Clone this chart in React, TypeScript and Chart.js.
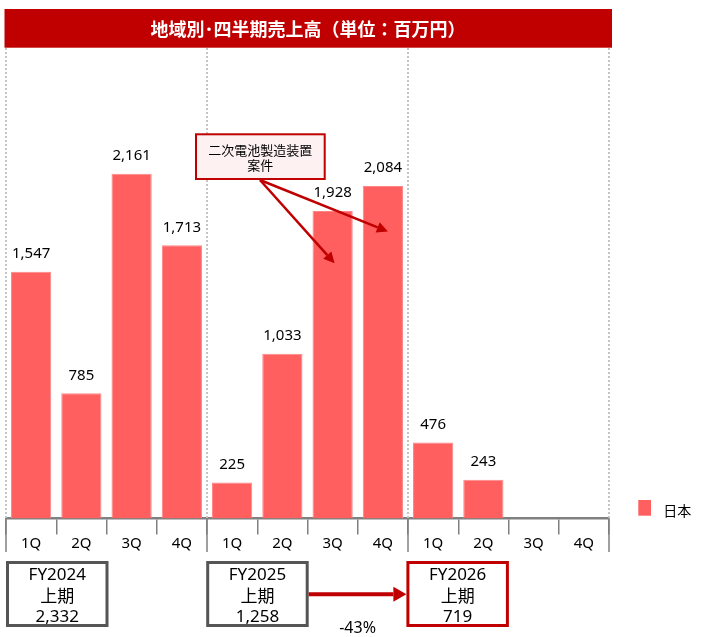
import React, { useEffect, useRef } from 'react';
import { Chart, registerables } from 'chart.js';

Chart.register(...registerables);

// ---------- data ----------
const quarterLabels = ['1Q', '2Q', '3Q', '4Q', '1Q', '2Q', '3Q', '4Q', '1Q', '2Q', '3Q', '4Q'];
const japanSales: (number | null)[] = [1547, 785, 2161, 1713, 225, 1033, 1928, 2084, 476, 243, null, null];
const fiscalYears = ['FY2024', 'FY2025', 'FY2026'];
const halfLabel = '上期';
const seriesLabel = '日本';
const titleText = '地域別･四半期売上高（単位：百万円）';
const calloutLines = ['二次電池製造装置', '案件'];
const calloutTargetIdx = [6, 7];
const calloutTargetVal = [1600, 1800];
const yMax = 3000;

const FONT = '"Noto Sans", "Noto Sans CJK JP", sans-serif';
const CJK_FONT = '"Noto Sans CJK JP", "Noto Sans", sans-serif';
const BAR = '#FF5F5F';
const DARK_RED = '#C00000';

const halfTotals = fiscalYears.map((_, g) =>
  (japanSales[g * 4] ?? 0) + (japanSales[g * 4 + 1] ?? 0)
);
const changePct = Math.round((halfTotals[2] / halfTotals[1] - 1) * 100);
const changeLabel = `${changePct}%`;

function drawArrow(
  ctx: CanvasRenderingContext2D,
  x1: number, y1: number, x2: number, y2: number,
  width: number, headLen: number, headHalf: number, color: string
) {
  const ang = Math.atan2(y2 - y1, x2 - x1);
  const bx = x2 - headLen * Math.cos(ang);
  const by = y2 - headLen * Math.sin(ang);
  ctx.save();
  ctx.strokeStyle = color;
  ctx.fillStyle = color;
  ctx.lineWidth = width;
  ctx.setLineDash([]);
  ctx.beginPath();
  ctx.moveTo(x1, y1);
  ctx.lineTo(bx, by);
  ctx.stroke();
  ctx.beginPath();
  ctx.moveTo(x2, y2);
  ctx.lineTo(bx + headHalf * Math.sin(ang), by - headHalf * Math.cos(ang));
  ctx.lineTo(bx - headHalf * Math.sin(ang), by + headHalf * Math.cos(ang));
  ctx.closePath();
  ctx.fill();
  ctx.restore();
}

function boundary(x: any, i: number) {
  const half = (x.getPixelForValue(1) - x.getPixelForValue(0)) / 2;
  if (i >= quarterLabels.length) return x.getPixelForValue(quarterLabels.length - 1) + half;
  return x.getPixelForValue(i) - half;
}

const decorPlugin = {
  id: 'decor',
  beforeDatasetsDraw(chart: any) {
    const { ctx, chartArea, scales } = chart;
    const x = scales.x;
    ctx.save();
    ctx.strokeStyle = '#C4C4C4';
    ctx.lineWidth = 2;
    ctx.setLineDash([2, 2]);
    for (let g = 0; g <= fiscalYears.length; g++) {
      const px = boundary(x, g * 4);
      ctx.beginPath();
      ctx.moveTo(px, chartArea.top);
      ctx.lineTo(px, chartArea.bottom);
      ctx.stroke();
    }
    ctx.restore();
  },
  afterDatasetsDraw(chart: any) {
    const { ctx } = chart;
    const meta = chart.getDatasetMeta(0);
    ctx.save();
    ctx.fillStyle = '#000';
    ctx.font = `15px ${FONT}`;
    ctx.textAlign = 'center';
    ctx.textBaseline = 'middle';
    meta.data.forEach((bar: any, i: number) => {
      const v = japanSales[i];
      if (v == null) return;
      ctx.fillText(v.toLocaleString('en-US'), bar.x, bar.y - 18);
    });
    ctx.restore();
  },
  afterDraw(chart: any) {
    const { ctx, chartArea, scales } = chart;
    const x = scales.x;
    const y = scales.y;
    ctx.save();

    // title bar
    ctx.fillStyle = DARK_RED;
    ctx.fillRect(4.5, 9, 607.5, 38.7);
    ctx.fillStyle = '#fff';
    ctx.font = `bold 18px ${CJK_FONT}`;
    ctx.textAlign = 'center';
    ctx.textBaseline = 'middle';
    ctx.fillText(titleText, 308, 29);

    // long group ticks
    ctx.strokeStyle = '#808080';
    ctx.lineWidth = 1.5;
    for (let g = 0; g <= fiscalYears.length; g++) {
      const px = boundary(x, g * 4);
      ctx.beginPath();
      ctx.moveTo(px, chartArea.bottom);
      ctx.lineTo(px, 552);
      ctx.stroke();
    }

    // callout box
    const bx = 195, by = 133.3, bw = 130.7, bh = 46.7;
    ctx.fillStyle = '#FDF1F1';
    ctx.fillRect(bx, by, bw, bh);
    ctx.strokeStyle = DARK_RED;
    ctx.lineWidth = 2;
    ctx.strokeRect(bx + 1, by + 1, bw - 2, bh - 2);
    ctx.fillStyle = '#000';
    ctx.font = `13px ${CJK_FONT}`;
    ctx.fillText(calloutLines[0], bx + bw / 2, 150);
    ctx.fillText(calloutLines[1], bx + bw / 2, 165);
    calloutTargetIdx.forEach((idx, k) => {
      const tx = x.getPixelForValue(idx) + (k === 0 ? 2 : 5);
      const ty = y.getPixelForValue(calloutTargetVal[k]);
      drawArrow(ctx, 260, 180, tx, ty, 2.5, 11, 5.5, DARK_RED);
    });

    // bottom summary boxes (FY2024, FY2025, FY2026)
    const boxTop = 561, boxBottom = 627, boxW = 102.5;
    const lefts = fiscalYears.map((_, g) => boundary(x, g * 4) - g * 0.8);
    fiscalYears.forEach((fy, g) => {
      const l = lefts[g];
      ctx.fillStyle = '#fff';
      ctx.fillRect(l, boxTop, boxW, boxBottom - boxTop);
      ctx.strokeStyle = g === 2 ? DARK_RED : '#555555';
      ctx.lineWidth = 3;
      ctx.strokeRect(l + 1.5, boxTop + 1.5, boxW - 3, boxBottom - boxTop - 3);
      ctx.fillStyle = '#000';
      ctx.font = `17px ${FONT}`;
      const cx = l + boxW / 2;
      ctx.fillText(fy, cx, 575);
      ctx.font = `17px ${CJK_FONT}`;
      ctx.fillText(halfLabel, cx, 595.5);
      ctx.font = `17px ${FONT}`;
      ctx.fillText(halfTotals[g].toLocaleString('en-US'), cx, 617);
    });
    // arrow FY2025 -> FY2026
    const aStart = lefts[1] + boxW;
    const aEnd = lefts[2];
    drawArrow(ctx, aStart, 594.3, aEnd, 594.3, 4, 13, 7.5, DARK_RED);
    ctx.fillStyle = '#000';
    ctx.font = `16px ${FONT}`;
    ctx.fillText(changeLabel, (aStart + aEnd) / 2, 628.5);

    // legend
    ctx.fillStyle = BAR;
    ctx.fillRect(638.3, 500, 12.7, 15.7);
    ctx.fillStyle = '#000';
    ctx.font = `14px ${CJK_FONT}`;
    ctx.textAlign = 'left';
    ctx.fillText(seriesLabel, 663.3, 510.5);

    ctx.restore();
  },
};

export default function App() {
  const canvasRef = useRef<HTMLCanvasElement | null>(null);

  useEffect(() => {
    document.body.style.margin = '0';
    const canvas = canvasRef.current;
    if (!canvas) return;
    const chart = new Chart(canvas, {
      type: 'bar',
      data: {
        labels: quarterLabels,
        datasets: [
          {
            label: seriesLabel,
            data: japanSales,
            backgroundColor: BAR,
            borderColor: '#FF8585',
            borderWidth: 1,
            barPercentage: 0.8,
            categoryPercentage: 1.0,
          },
        ],
      },
      options: {
        animation: false,
        responsive: true,
        maintainAspectRatio: false,
        layout: { padding: { left: 6, right: 94, top: 40, bottom: 78.5 } },
        plugins: {
          legend: { display: false },
          tooltip: { enabled: false },
          title: { display: false },
        },
        scales: {
          x: {
            offset: true,
            grid: {
              offset: true,
              drawOnChartArea: false,
              drawTicks: true,
              tickLength: 16,
              color: '#808080',
              lineWidth: 1.5,
            },
            border: { display: true, color: '#808080', width: 2.5 },
            ticks: {
              color: '#000',
              font: { family: FONT, size: 15 },
              padding: 0,
              maxRotation: 0,
              autoSkip: false,
            },
            afterFit: (s: any) => {
              s.height = 40;
            },
          },
          y: {
            display: false,
            min: 0,
            max: yMax,
          },
        },
      },
      plugins: [decorPlugin],
    });
    return () => chart.destroy();
  }, []);

  return (
    <div style={{ width: 703, height: 637, position: 'relative' }}>
      <canvas ref={canvasRef} />
    </div>
  );
}
